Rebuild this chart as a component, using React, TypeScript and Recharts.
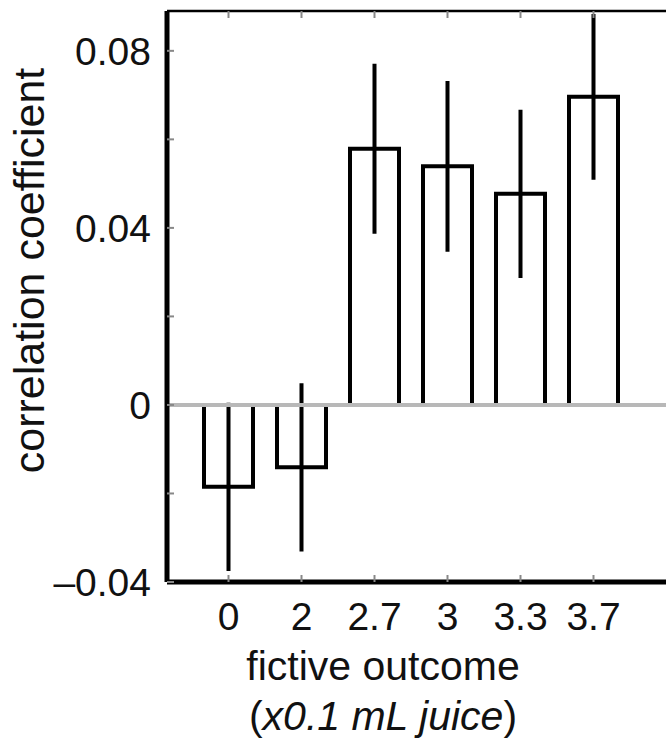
import React from 'react';
import { BarChart, Bar, XAxis, YAxis, ErrorBar, ReferenceLine } from 'recharts';

const outcomes = ['0', '2', '2.7', '3', '3.3', '3.7'];
const coefficients = [-0.0185, -0.0141, 0.0579, 0.0539, 0.0477, 0.0696];
const errors = [0.019, 0.019, 0.0192, 0.0193, 0.019, 0.0187];
const yTicks = [-0.04, -0.02, 0, 0.02, 0.04, 0.06, 0.08];
const labeledTicks = [-0.04, 0, 0.04, 0.08];

const data = outcomes.map((outcome, i) => ({
  outcome,
  value: coefficients[i],
  err: errors[i],
}));

const FONT = '"Liberation Sans", Arial, Helvetica, sans-serif';
const xPadding = { left: 25, right: 36 };

const formatY = (v: number) => {
  if (!labeledTicks.some((t) => Math.abs(t - v) < 1e-9)) return '';
  if (v === 0) return '0';
  return v < 0 ? '\u2013' + Math.abs(v).toFixed(2) : v.toFixed(2);
};

const XTitle = (props: any) => {
  const { x, y } = props.viewBox;
  const cx = x + 216;
  return (
    <g fontFamily={FONT} fontSize={41} fill="#111">
      <text x={cx} y={y + 98} textAnchor="middle">fictive outcome</text>
      <text x={cx} y={y + 148} textAnchor="middle">
        (<tspan fontStyle="italic">x0.1 mL juice</tspan>)
      </text>
    </g>
  );
};

const YTitle = (props: any) => {
  const { y, height } = props.viewBox;
  const cy = y + height / 2 - 26;
  return (
    <text
      x={44}
      y={cy}
      transform={`rotate(-90, 44, ${cy})`}
      textAnchor="middle"
      fontFamily={FONT}
      fontSize={43}
      fill="#111"
    >
      correlation coefficient
    </text>
  );
};

export default function App() {
  return (
    <div style={{ width: 666, height: 755, background: '#fff' }}>
      <style>{'body{margin:0;overflow:hidden}'}</style>
      <BarChart
        width={666}
        height={755}
        data={data}
        margin={{ top: 10, right: 0, bottom: 113, left: 0 }}
      >
        <XAxis
          dataKey="outcome"
          padding={xPadding}
          height={60}
          axisLine={{ stroke: '#000', strokeWidth: 5 }}
          tickLine={{ stroke: '#888', strokeWidth: 2 }}
          tickSize={-7}
          tickMargin={27}
          tick={{ fontSize: 39, fill: '#111', fontFamily: FONT }}
          interval={0}
          label={{ content: XTitle }}
        />
        <XAxis
          xAxisId="top"
          orientation="top"
          dataKey="outcome"
          padding={xPadding}
          height={1}
          axisLine={{ stroke: '#000', strokeWidth: 2.5 }}
          tickLine={{ stroke: '#888', strokeWidth: 2 }}
          tickSize={-7}
          tickFormatter={() => ''}
          interval={0}
        />
        <YAxis
          width={167}
          domain={[-0.04, 0.089]}
          allowDataOverflow
          ticks={yTicks}
          tickFormatter={formatY}
          axisLine={{ stroke: '#000', strokeWidth: 5 }}
          tickLine={{ stroke: '#888', strokeWidth: 2 }}
          tickSize={-7}
          tickMargin={23}
          tick={{ fontSize: 39, fill: '#111', fontFamily: FONT }}
          label={{ content: YTitle }}
        />
        <Bar
          dataKey="value"
          barSize={49}
          fill="#fff"
          stroke="#000"
          strokeWidth={4}
          isAnimationActive={false}
        >
          <ErrorBar dataKey="err" width={0} strokeWidth={4} stroke="#000" direction="y" />
        </Bar>
        <ReferenceLine y={0} stroke="#b8b8b8" strokeWidth={4} />
      </BarChart>
    </div>
  );
}
